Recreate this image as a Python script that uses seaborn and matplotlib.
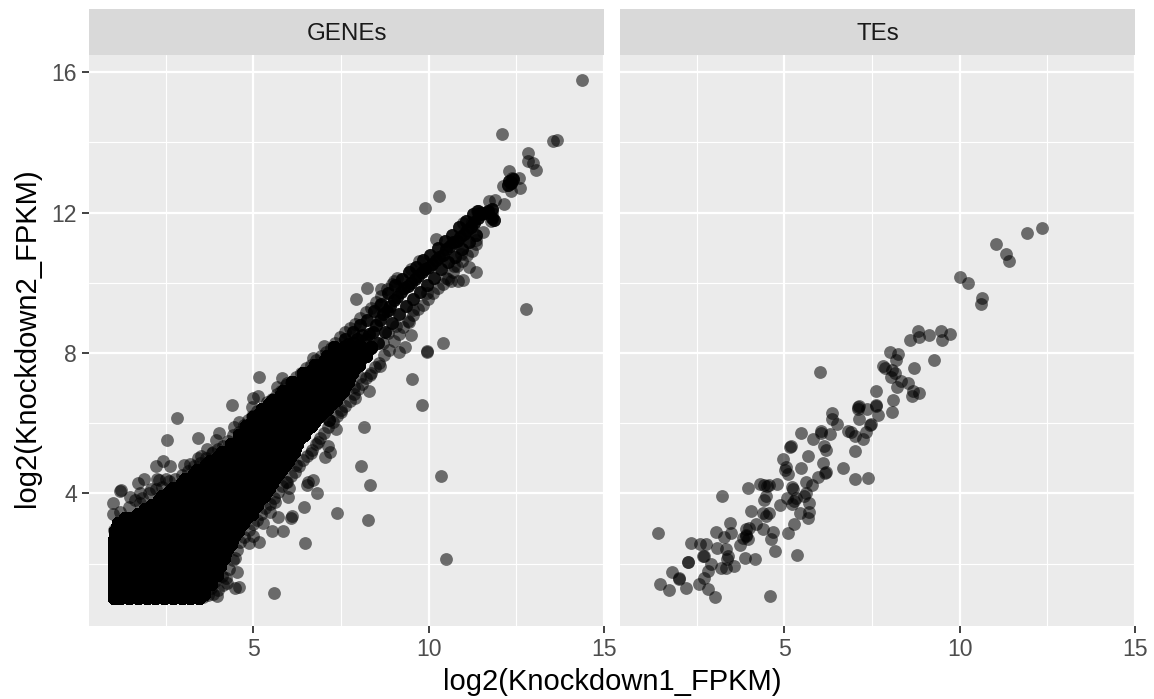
import numpy as np
import pandas as pd
import matplotlib
matplotlib.use('Agg')
import matplotlib.pyplot as plt
from matplotlib.patches import Rectangle
from matplotlib.ticker import FixedLocator
import seaborn as sns

# TEs panel
te_x = [12.36,11.92,11.02,11.33,11.41,10.0,10.23,10.63,10.61,8.82,8.59,8.85,9.13,9.47,9.49,9.73,9.26,
        8.02,8.24,8.18,7.80,7.88,8.07,8.16,8.05,8.69,8.33,8.53,8.20,8.68,8.83,8.64,7.62,8.09,8.07,6.02,
        7.09,7.14,7.09,7.35,7.61,7.61,7.68,6.36,6.36,6.49,7.14,7.47,7.44,7.33,6.80,6.90,7.00,7.25,7.01,
        6.04,6.04,6.30,5.46,5.82,6.12,6.19,5.19,5.16,5.66,4.97,5.05,5.03,5.10,5.47,6.09,6.19,6.17,5.95,
        6.66,7.00,7.38,5.62,5.79,4.79,4.31,4.43,4.50,4.55,3.95,3.21,5.22,5.24,4.48,4.41,5.62,5.57,5.07,
        5.33,5.28,5.22,4.88,5.71,5.69,5.43,5.67,5.28,4.05,4.38,4.55,4.46,3.45,3.05,3.49,3.29,4.19,4.0,
        3.89,3.91,3.89,3.96,3.81,4.38,4.67,4.63,5.09,3.72,4.72,5.35,4.17,3.87,2.34,2.58,2.75,3.07,3.32,
        1.40,2.67,2.71,3.39,3.36,2.24,2.24,2.91,3.20,3.34,3.57,2.83,1.78,1.99,1.99,2.72,2.56,1.46,1.70,
        2.18,2.81,3.03,4.60]
te_y = [11.55,11.41,11.10,10.82,10.62,10.18,10.0,9.58,9.40,8.63,8.36,8.46,8.50,8.63,8.37,8.54,7.79,
        8.03,7.96,7.80,7.62,7.58,7.53,7.44,7.33,7.58,7.20,7.15,7.02,6.93,6.87,6.77,6.92,6.67,6.33,7.47,
        6.47,6.49,6.42,6.41,6.51,6.49,6.23,6.30,6.11,5.97,6.11,5.99,5.94,5.76,5.78,5.76,5.63,5.54,5.21,
        5.78,5.73,5.70,5.73,5.54,5.35,5.25,5.34,5.31,5.06,4.99,4.76,4.66,4.55,4.72,4.87,4.61,4.57,4.47,
        4.72,4.41,4.44,4.34,4.25,4.28,4.28,4.25,4.21,4.23,4.16,3.92,4.19,4.13,3.92,3.80,4.0,3.94,3.88,
        3.86,3.78,3.69,3.67,3.72,3.47,3.43,3.30,3.14,3.49,3.45,3.43,3.37,3.15,2.91,2.86,2.77,3.14,3.02,
        2.99,2.83,2.78,2.71,2.74,2.99,2.91,2.71,2.86,2.52,2.36,2.26,2.14,2.16,2.59,2.57,2.55,2.44,2.42,
        2.86,2.23,2.21,2.23,2.14,2.05,2.06,1.98,1.88,1.88,1.93,1.79,1.77,1.60,1.55,1.60,1.41,1.43,1.26,
        1.31,1.29,1.04,1.09]

# GENEs panel, points that stand apart from the main cloud
gene_x = [14.36,12.10,13.53,13.65,12.82,12.84,12.96,13.06,12.30,12.58,12.60,12.34,12.37,12.11,12.34,12.15,
          11.89,11.71,10.28,9.89,11.39,11.79,11.77,11.56,11.35,11.36,10.97,11.23,10.21,10.93,11.15,11.35,
          10.73,10.49,10.64,10.83,10.97,9.72,9.50,9.0,8.64,8.24,7.92,12.78,9.95,9.54,9.45,9.48,9.07,10.40,
          9.31,9.94,8.6,8.83,8.69,
          2.81,2.54,3.43,4.38,5.16,5.0,5.12,4.97,4.03,3.94,3.67,3.84,3.5,3.43,4.45,4.59,2.42,2.23,2.61,3.03,
          3.2,1.89,1.70,1.76,2.25,2.51,2.08,2.32,1.19,1.22,1.0,1.49,1.76,1.0,1.2,1.03,5.81,5.95,5.66,5.52,
          6.69,7.02,
          5.59,3.96,4.48,4.6,4.53,4.48,4.24,4.1,4.86,5.16,5.0,5.52,5.84,5.27,5.46,5.71,6.07,6.1,6.48,6.45,
          6.0,6.8,5.62,6.02,5.95,6.52,6.71,6.57,7.38,8.28,8.33,8.06,8.14,7.35,7.15,7.15,7.15,6.85,7.13,7.18,
          7.04,6.64,6.21,7.51,7.89,8.29,7.87,8.32,8.04,8.6,10.49,10.35,9.81,9.52,9.15,9.95,8.87]
gene_y = [15.77,14.25,14.03,14.08,13.70,13.46,13.41,13.20,13.18,12.99,12.69,12.86,12.99,12.75,12.61,12.25,
          12.37,12.32,12.46,12.12,12.04,11.99,11.75,11.44,11.23,11.12,11.71,11.72,11.25,10.83,10.44,10.31,
          10.47,10.14,10.04,10.06,10.09,10.61,10.40,10.06,9.83,9.84,9.53,9.26,9.71,9.24,8.88,8.52,8.76,8.29,
          8.16,8.05,9.38,8.57,8.29,
          6.16,5.53,5.59,6.53,7.33,6.72,6.78,6.46,5.72,5.53,5.27,5.18,5.07,5.01,5.89,6.05,4.93,4.79,4.79,4.82,
          4.85,4.42,4.29,4.01,4.42,4.41,4.12,4.37,4.08,4.09,3.72,3.91,3.74,3.42,3.46,2.96,7.29,7.14,7.03,6.67,
          7.86,8.19,
          1.16,1.07,1.32,1.33,1.75,2.16,1.45,1.64,2.59,2.62,2.78,2.94,2.94,3.15,3.46,3.33,3.3,3.36,2.58,3.62,
          3.91,4.01,3.75,4.15,4.34,4.25,4.37,4.34,3.44,3.25,4.24,4.79,5.89,5.85,6.08,6.08,6.08,5.48,5.34,5.17,
          5.04,5.15,4.82,6.38,6.72,6.91,7.03,7.38,7.33,7.62,2.12,4.51,6.51,7.25,8.02,8.02,9.24]

# loose genes on the rim of the main cloud
rim_x = [1.45,1.62,1.82,2.02,2.22,2.4,2.58,2.76,2.96,3.14,3.3,3.48,3.66,3.82,3.98,4.14,4.28,4.42,4.58,4.72,4.84,4.96,
         5.1,5.24,5.38,5.52,5.66,5.8,5.94,6.08,6.22,6.36,6.5,6.64,6.78,6.92,7.06,7.2,7.34,7.48,7.62,7.76,7.9,8.05,
         8.2,8.35,8.5,8.65,8.8,8.95,9.1,
         3.55,3.7,3.85,4.0,3.8,3.9,4.12,4.22,4.3,4.42,4.52,4.62,4.74,4.86,4.98,5.1,5.22,5.34,5.46,5.58,5.7,5.82,
         5.94,6.06,6.18,6.3,6.42,6.54,6.66,6.78,6.9,7.02,7.14,7.26,7.38,7.5,7.62,7.74,7.86,7.98,8.1,8.22,8.34,8.46,
         8.58,8.72,8.86,9.0,9.14,9.28,9.42,9.56,9.7,9.84,9.98,10.12,10.26,10.4,10.54,10.68,10.82,10.96,11.1,11.24]
rim_y = [3.62,3.82,3.88,4.0,4.12,4.18,4.36,4.42,4.52,4.64,4.78,4.88,5.02,5.14,5.28,5.36,5.5,5.66,5.76,5.94,6.08,6.2,
         6.34,6.42,6.6,6.68,6.84,6.92,7.08,7.16,7.32,7.44,7.58,7.66,7.8,7.92,8.04,8.14,8.3,8.46,8.6,8.72,8.84,9.0,
         9.16,9.28,9.46,9.62,9.82,9.98,10.14,
         1.05,1.1,1.15,1.25,1.3,1.5,1.4,1.6,1.85,2.1,2.4,2.62,2.75,2.95,3.12,3.25,3.42,3.6,3.7,3.88,4.05,4.2,
         4.32,4.5,4.62,4.78,4.95,5.08,5.25,5.4,5.58,5.72,5.9,6.05,6.2,6.32,6.5,6.62,6.82,6.98,7.12,7.3,7.44,7.6,
         7.72,7.95,8.1,8.35,8.55,8.75,8.92,9.08,9.25,9.38,9.55,9.72,9.85,9.98,10.12,10.32,10.48,10.62,10.78,10.92]

# main cloud, read as rows: one y level and the x values along it
band_y = [1.02,1.15,1.3,1.42,1.55,1.67,1.8,1.92,2.05,2.17,2.3,2.42,2.55,2.67,2.8,2.92,3.05,3.17,3.3,3.42,3.55,3.67,
          3.8,3.92,4.05,4.17,4.3,4.42,4.55,4.67,4.8,4.92,5.05,5.17,5.3,5.42,5.55,5.67,5.8,5.92,6.05,6.17,6.3,6.42,
          6.55,6.67,6.8,6.92,7.05,7.17,7.3,7.42,7.55,7.67,7.8,7.92,8.05,8.17]
band_x = [
    [1.03,1.2,1.45,1.7,1.95,2.2,2.45,2.7,2.95,3.2,3.45],
    [1.03,1.32,1.57,1.82,2.07,2.32,2.57,2.82,3.07,3.32,3.6],
    [1.03,1.3,1.55,1.8,2.05,2.3,2.55,2.8,3.05,3.3,3.6],
    [1.03,1.18,1.43,1.68,1.93,2.18,2.43,2.68,2.93,3.18,3.43,3.8],
    [1.03,1.2,1.45,1.7,1.95,2.2,2.45,2.7,2.95,3.2,3.45,3.6,3.75],
    [1.03,1.32,1.57,1.82,2.07,2.32,2.57,2.82,3.07,3.32,3.57,3.95],
    [1.03,1.3,1.55,1.8,2.05,2.3,2.55,2.8,3.05,3.3,3.55,3.75,3.95],
    [1.03,1.18,1.43,1.68,1.93,2.18,2.43,2.68,2.93,3.18,3.43,3.68,3.85,4.05],
    [1.03,1.2,1.45,1.7,1.95,2.2,2.45,2.7,2.95,3.2,3.45,3.7,3.88,4.05],
    [1.03,1.32,1.57,1.82,2.07,2.32,2.57,2.82,3.07,3.32,3.57,3.82,4.0,4.15],
    [1.03,1.3,1.55,1.8,2.05,2.3,2.55,2.8,3.05,3.3,3.55,3.8,4.0,4.2],
    [1.03,1.18,1.43,1.68,1.93,2.18,2.43,2.68,2.93,3.18,3.43,3.68,3.93,4.1,4.25],
    [1.03,1.2,1.45,1.7,1.95,2.2,2.45,2.7,2.95,3.2,3.45,3.7,3.95,4.15,4.35],
    [1.03,1.32,1.57,1.82,2.07,2.32,2.57,2.82,3.07,3.32,3.57,3.82,4.07,4.25,4.4],
    [1.05,1.3,1.55,1.8,2.05,2.3,2.55,2.8,3.05,3.3,3.55,3.8,4.05,4.25,4.45],
    [1.06,1.18,1.43,1.68,1.93,2.18,2.43,2.68,2.93,3.18,3.43,3.68,3.93,4.18,4.38,4.55],
    [1.1,1.2,1.45,1.7,1.95,2.2,2.45,2.7,2.95,3.2,3.45,3.7,3.95,4.2,4.4,4.6],
    [1.15,1.32,1.57,1.82,2.07,2.32,2.57,2.82,3.07,3.32,3.57,3.82,4.07,4.32,4.5,4.7],
    [1.35,1.55,1.8,2.05,2.3,2.55,2.8,3.05,3.3,3.55,3.8,4.05,4.3,4.55,4.8],
    [1.7,1.93,2.18,2.43,2.68,2.93,3.18,3.43,3.68,3.93,4.18,4.43,4.7,4.95],
    [1.9,2.2,2.45,2.7,2.95,3.2,3.45,3.7,3.95,4.2,4.45,4.7,4.85,5.0],
    [2.1,2.32,2.57,2.82,3.07,3.32,3.57,3.82,4.07,4.32,4.57,4.82,5.1],
    [2.3,2.55,2.8,3.05,3.3,3.55,3.8,4.05,4.3,4.55,4.8,4.98,5.15],
    [2.4,2.68,2.93,3.18,3.43,3.68,3.93,4.18,4.43,4.68,4.93,5.15,5.3],
    [2.6,2.7,2.95,3.2,3.45,3.7,3.95,4.2,4.45,4.7,4.95,5.15,5.35],
    [2.7,2.85,3.07,3.32,3.57,3.82,4.07,4.32,4.57,4.82,5.07,5.3,5.45],
    [2.95,3.05,3.3,3.55,3.8,4.05,4.3,4.55,4.8,5.05,5.3,5.52],
    [3.05,3.18,3.43,3.68,3.93,4.18,4.43,4.68,4.93,5.18,5.4,5.6],
    [3.3,3.45,3.7,3.95,4.2,4.45,4.7,4.95,5.2,5.45,5.7],
    [3.4,3.57,3.82,4.07,4.32,4.57,4.82,5.07,5.32,5.55,5.8],
    [3.65,3.8,4.05,4.3,4.55,4.8,5.05,5.3,5.55,5.75,5.9],
    [3.75,3.93,4.18,4.43,4.68,4.93,5.18,5.43,5.68,5.85,6.0],
    [4.0,4.2,4.45,4.7,4.95,5.2,5.45,5.7,5.9,6.05],
    [4.1,4.32,4.57,4.82,5.07,5.32,5.57,5.82,6.0,6.15],
    [4.35,4.55,4.8,5.05,5.3,5.55,5.8,6.0,6.18],
    [4.35,4.68,4.93,5.18,5.43,5.68,5.93,6.1,6.25],
    [4.6,4.7,4.95,5.2,5.45,5.7,5.95,6.15,6.3],
    [4.6,4.82,5.07,5.32,5.57,5.82,6.07,6.25,6.45],
    [4.8,5.05,5.3,5.55,5.8,6.05,6.28,6.5],
    [4.8,4.93,5.18,5.43,5.68,5.93,6.18,6.43,6.65],
    [4.95,5.2,5.45,5.7,5.95,6.2,6.45,6.72],
    [5.0,5.32,5.57,5.82,6.07,6.32,6.57,6.85],
    [5.2,5.3,5.55,5.8,6.05,6.3,6.55,6.75,6.95],
    [5.25,5.43,5.68,5.93,6.18,6.43,6.68,6.9,7.1],
    [5.45,5.7,5.95,6.2,6.45,6.7,6.95,7.2],
    [5.55,5.82,6.07,6.32,6.57,6.82,7.07,7.35],
    [5.8,6.05,6.3,6.55,6.8,7.05,7.25,7.45],
    [5.85,6.18,6.43,6.68,6.93,7.18,7.4,7.55],
    [6.1,6.2,6.45,6.7,6.95,7.2,7.4,7.6],
    [6.1,6.32,6.57,6.82,7.07,7.32,7.52,7.7],
    [6.4,6.55,6.8,7.05,7.3,7.52,7.72],
    [6.4,6.68,6.93,7.18,7.43,7.65,7.82],
    [6.7,6.95,7.2,7.45,7.67,7.87],
    [6.75,7.07,7.32,7.57,7.8,8.0],
    [7.05,7.3,7.55,7.8,8.05],
    [7.1,7.43,7.68,7.93,8.2],
    [7.35,7.45,7.7,7.95,8.25],
    [7.3,7.57,7.82,8.07,8.35],
]
# how many genes sit on top of each other along each row
band_n = [4]*58

# thin upper part of the cloud, along its middle and along both rims
ridge_x = [7.7,7.85,8.0,8.2,8.4,8.6,8.8,9.0,9.2,9.4,9.6,9.8,10.0,10.2,10.4,10.6,10.8,11.0,11.2,11.4,11.6,11.8,
           7.6,7.85,8.05,8.25,8.45,8.65,8.85,9.05,9.25,9.45,9.65,9.85,10.05,10.25,10.45,10.65,10.85,11.05,11.25,
           8.15,8.35,8.55,8.75,8.95,9.15,9.35,9.55,9.75,9.95,10.15,10.35,10.55,10.75,10.95,11.15,11.35,
           7.95,8.1,8.3,8.5,8.7,8.9,9.1,9.3,9.5,9.7,9.9,10.1,10.3,10.5,10.7,10.9,11.1,11.3,11.5,11.7,
           12.3,12.4,12.35,12.25,11.4,11.45,11.8,11.85]
ridge_y = [8.25,8.3,8.2,8.4,8.6,8.95,9.2,9.5,9.75,9.9,10.1,10.3,10.45,10.65,10.8,11.05,11.2,11.4,11.6,11.85,12.0,12.1,
           8.4,8.6,8.8,8.95,9.2,9.4,9.7,9.95,10.1,10.3,10.45,10.65,10.8,11.0,11.2,11.35,11.6,11.75,11.95,
           7.95,8.15,8.3,8.6,8.85,9.1,9.35,9.55,9.75,9.95,10.15,10.4,10.6,10.75,10.95,11.15,11.35,
           8.4,8.5,8.55,8.8,9.1,9.35,9.6,9.85,10.0,10.2,10.4,10.55,10.75,10.95,11.15,11.3,11.5,11.7,11.95,12.05,
           12.9,12.95,12.85,12.8,12.05,12.0,11.85,11.8]
ridge_n = [3]*86

panels = ['GENEs', 'TEs']
x_major = [5, 10, 15]
x_minor = [2.5, 7.5, 12.5]
y_major = [4, 8, 12, 16]
y_minor = [2, 6, 10, 14]

core = pd.DataFrame({'y': band_y, 'x': band_x, 'n': band_n}).explode('x')
core = core.loc[core.index.repeat(core['n'])]
ridge = pd.DataFrame({'x': ridge_x, 'y': ridge_y, 'n': ridge_n})
ridge = ridge.loc[ridge.index.repeat(ridge['n'])]
genes = pd.concat([pd.DataFrame({'x': gene_x, 'y': gene_y}), pd.DataFrame({'x': rim_x, 'y': rim_y}),
                   core[['x', 'y']], ridge[['x', 'y']]], ignore_index=True)
genes['x'] = genes['x'].astype(float)
genes['type'] = panels[0]
tes = pd.DataFrame({'x': te_x, 'y': te_y, 'type': panels[1]})
df = pd.concat([genes, tes], ignore_index=True)

sns.set_theme(style='darkgrid', rc={'axes.facecolor': '#EBEBEB', 'figure.facecolor': 'white'})
plt.rcParams['font.family'] = ['Liberation Sans', 'DejaVu Sans']

g = sns.FacetGrid(df, col='type', col_order=panels, sharex=True, sharey=True, despine=False)
g.map_dataframe(sns.scatterplot, x='x', y='y', color='black', alpha=0.55, s=85, linewidth=0)
g.figure.set_size_inches(11.54, 6.99)
g.figure.subplots_adjust(left=89/1154, right=1135.4/1154, top=1-55/699, bottom=1-626/699, wspace=15.6/515.4)
g.set_titles('')
g.set_axis_labels('', '')

for ax, name in zip(g.axes.flat, panels):
    ax.set_xlim(0.31, 15.01)
    ax.set_ylim(0.225, 16.49)
    ax.set_xticks(x_major)
    ax.set_yticks(y_major)
    ax.xaxis.set_minor_locator(FixedLocator(x_minor))
    ax.yaxis.set_minor_locator(FixedLocator(y_minor))
    ax.grid(which='major', color='white', linewidth=1.6)
    ax.grid(which='minor', color='white', linewidth=0.8)
    ax.set_axisbelow(True)
    for s in ax.spines.values():
        s.set_visible(False)
    ax.tick_params(which='minor', length=0)
    ax.tick_params(which='major', length=5, width=1.3, color='#333333', labelcolor='#4D4D4D',
                   labelsize=16.6, bottom=True)
    ax.tick_params(axis='x', which='major', pad=3.5)
    ax.tick_params(axis='y', which='major', pad=3.5)
    ax.add_patch(Rectangle((0, 1), 1, 46/571, transform=ax.transAxes, clip_on=False,
                           facecolor='#D9D9D9', edgecolor='none'))
    ax.text(0.5, 1 + 21/571, name, transform=ax.transAxes, ha='center', va='center',
            fontsize=17.4, color='#1A1A1A')

g.axes.flat[0].tick_params(axis='y', left=True)
g.axes.flat[1].tick_params(axis='y', left=False, labelleft=False)

g.figure.text(612.5/1154, 1-682/699, 'log2(Knockdown1_FPKM)', ha='center', va='center', fontsize=21, color='black')
g.figure.text(27/1154, 1-338/699, 'log2(Knockdown2_FPKM)', ha='center', va='center', rotation=90,
              fontsize=21, color='black')

g.figure.savefig('out.png', dpi=100)
